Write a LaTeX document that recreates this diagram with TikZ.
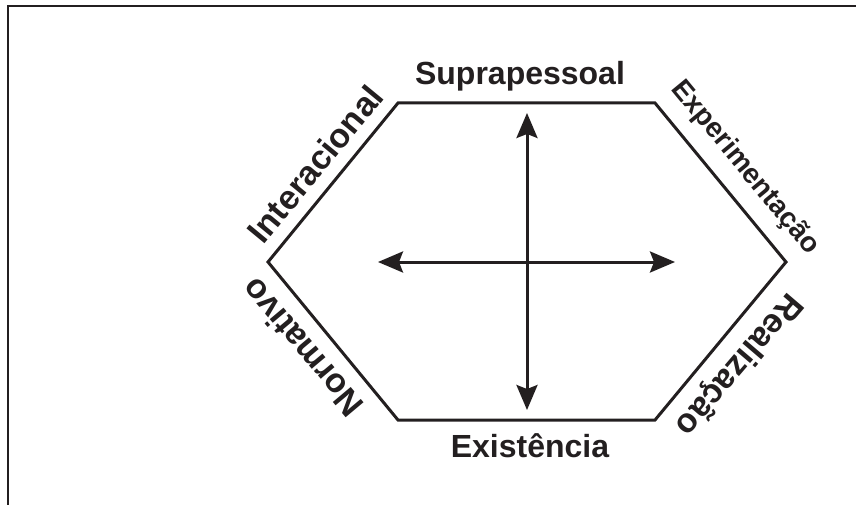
\documentclass[tikz,border=0pt]{standalone}
\usepackage{fontspec}
\setmainfont{Liberation Sans}
\usepackage{tikz}
\usetikzlibrary{arrows.meta}
\definecolor{ink}{RGB}{35,31,32}
\tikzset{
	border/.style={draw=ink, line width=2.4pt},
	hexline/.style={draw=ink, line width=3pt, line join=miter},
	cross/.style={draw=ink, line width=3pt,
		{Stealth[length=25pt,width=21pt,inset=4pt]}-{Stealth[length=25pt,width=21pt,inset=4pt]}},
	lbl/.style={font=\fontsize{32}{36}\selectfont\bfseries, text=ink, inner sep=0pt},
	slbl/.style={lbl, font=\fontsize{34}{38}\selectfont\bfseries},
}
\begin{document}
\begin{tikzpicture}[x=1pt, y=-1pt]
	\useasboundingbox (0,0) rectangle (856,505);
	\draw[border] (8,505) -- (8,6) -- (856,6);
	\coordinate (tl) at (398,103);
	\coordinate (tr) at (655,103);
	\coordinate (r) at (786,262);
	\coordinate (br) at (655,420);
	\coordinate (bl) at (398,420);
	\coordinate (l) at (268,262);
	\draw[hexline] (tl) -- (tr) -- (r) -- (br) -- (bl) -- (l) -- cycle;
	\coordinate (up) at (527,113);
	\coordinate (dn) at (527,410);
	\coordinate (lt) at (378,262);
	\coordinate (rt) at (675,262);
	\draw[cross] (up) -- (dn);
	\draw[cross] (lt) -- (rt);
	\node[lbl, anchor=base] at (520,85) (supra) {Suprapessoal};
	\node[lbl, anchor=base] at (530,457) (exist) {Existência};
	\node[slbl, rotate=50.5] at (315,164) (inter) {Interacional};
	\node[slbl, rotate=-50.5, font=\fontsize{28}{32}\selectfont\bfseries] at (745,168) (exper) {Experimentação};
	\node[slbl, rotate=130] at (302,348) (norm) {Normativo};
	\node[slbl, rotate=229.5] at (738,364) (real) {Realização};
\end{tikzpicture}
\end{document}
